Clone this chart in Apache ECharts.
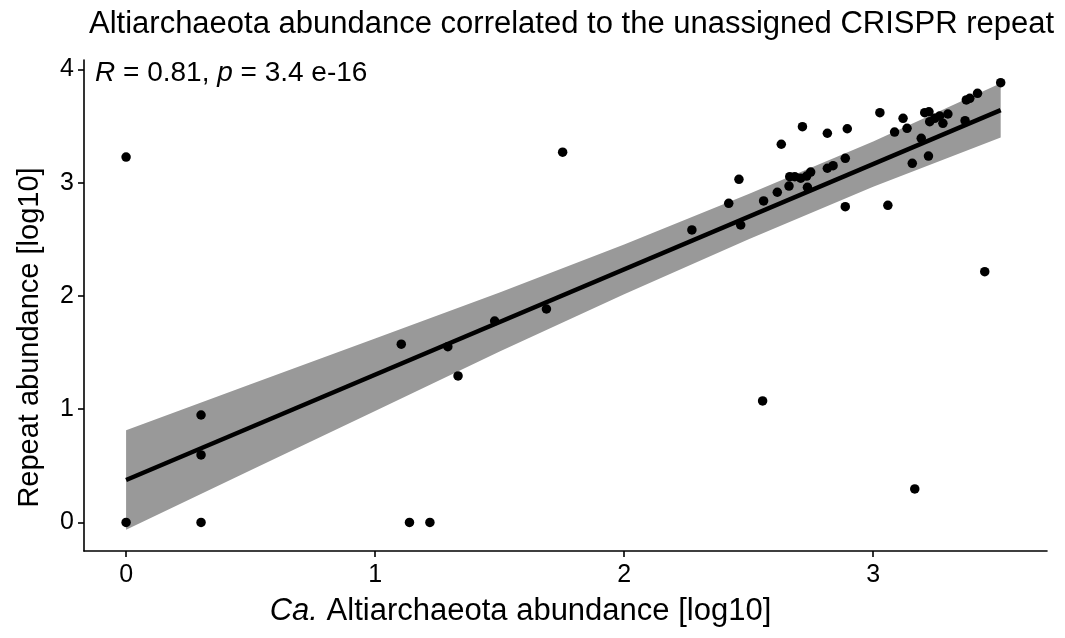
<!DOCTYPE html>
<html><head><meta charset="utf-8">
<script src="https://cdn.jsdelivr.net/npm/echarts@6/dist/echarts.min.js"></script>
<style>html,body{margin:0;padding:0;background:#fff}#c{width:1065px;height:638px}</style>
</head><body><div id="c"></div>
<script>
const titleText = 'Altiarchaeota abundance correlated to the unassigned CRISPR repeat';
const statText = '{i|R} = 0.81, {i|p} = 3.4 e-16';
const xTitle = '{i|Ca.} Altiarchaeota abundance [log10]';
const yTitle = 'Repeat abundance [log10]';

const xAbund = [0, 0, 0.301, 0.301, 0.301, 1.105, 1.138, 1.220, 1.292, 1.333,
  1.480, 1.688, 1.753, 2.272, 2.420, 2.468, 2.461, 2.556, 2.560, 2.615,
  2.631, 2.662, 2.665, 2.685, 2.709, 2.716, 2.733, 2.736, 2.749, 2.816,
  2.816, 2.839, 2.888, 2.888, 2.896, 3.027, 3.059, 3.086, 3.120, 3.136,
  3.157, 3.167, 3.193, 3.207, 3.224, 3.222, 3.227, 3.247, 3.267, 3.280,
  3.300, 3.369, 3.374, 3.388, 3.419, 3.448, 3.512];
const yRepeat = [0, 3.227, 0.949, 0.596, 0, 1.574, 0, 0, 1.552, 1.294,
  1.779, 1.885, 3.270, 2.583, 2.818, 2.627, 3.030, 1.073, 2.839, 2.916,
  3.340, 2.971, 3.054, 3.054, 3.040, 3.495, 3.059, 2.960, 3.094, 3.437,
  3.128, 3.151, 2.789, 3.216, 3.477, 3.619, 2.801, 3.448, 3.569, 3.481,
  3.172, 0.296, 3.392, 3.619, 3.627, 3.236, 3.539, 3.569, 3.589, 3.525,
  3.607, 3.548, 3.731, 3.746, 3.790, 2.215, 3.884];

const fitX = [0, 3.512];
const fitY = [0.375, 3.641];

const bandX = [0, 0.5, 1, 1.5, 2, 2.5, 3, 3.512];
const bandLower = [-0.065, 0.46, 0.985, 1.51, 2.015, 2.50, 2.965, 3.399];
const bandUpper = [0.815, 1.22, 1.625, 2.03, 2.455, 2.90, 3.365, 3.879];

const xTicks = [0, 1, 2, 3];
const yTicks = [0, 1, 2, 3, 4];

const FONT = '"Liberation Sans", Arial, Helvetica, sans-serif';

const chart = echarts.init(document.getElementById('c'), null, {renderer: 'canvas'});
const axisCommon = {
  axisLine: {show: true, onZero: false, lineStyle: {color: '#000', width: 1.6}},
  axisTick: {show: true, length: 6, lineStyle: {color: '#000', width: 1.6}},
  splitLine: {show: false}
};
chart.setOption({
  animation: false,
  backgroundColor: '#fff',
  title: [
    {text: titleText, left: 84, top: 4,
     textStyle: {fontSize: 31, fontWeight: 'normal', color: '#000', fontFamily: FONT}},
    {text: statText, left: 90, top: 54,
     textStyle: {fontSize: 28, fontWeight: 'normal', color: '#000', fontFamily: FONT,
       rich: {i: {fontStyle: 'italic', fontSize: 28, color: '#000', fontFamily: FONT}}}}
  ],
  grid: {left: 84, right: 18, top: 60, bottom: 87, containLabel: false, outerBoundsMode: 'none'},
  xAxis: Object.assign({
    type: 'value', min: -0.169, max: 3.698,
    name: xTitle, nameLocation: 'middle', nameGap: 45,
    nameTextStyle: {fontSize: 31, color: '#000', fontFamily: FONT, padding: [0, 90, 0, 0],
      rich: {i: {fontStyle: 'italic', fontSize: 31, color: '#000', fontFamily: FONT}}},
    axisLabel: {customValues: xTicks, fontSize: 25, color: '#000', fontFamily: FONT, margin: 12}
  }, axisCommon, {axisTick: Object.assign({}, axisCommon.axisTick, {customValues: xTicks})}),
  yAxis: Object.assign({
    type: 'value', min: -0.252, max: 4.084,
    name: yTitle, nameLocation: 'middle', nameGap: 40,
    nameTextStyle: {fontSize: 29, color: '#000', fontFamily: FONT, padding: [0, 64, 0, 0]},
    axisLabel: {customValues: yTicks, fontSize: 25, color: '#000', fontFamily: FONT, margin: 10}
  }, axisCommon, {axisTick: Object.assign({}, axisCommon.axisTick, {customValues: yTicks})}),
  series: [
    {
      type: 'custom', z: 1, silent: true,
      data: bandX.map((x, i) => [x, bandLower[i], bandUpper[i]]),
      encode: {x: 0, y: [1, 2]},
      renderItem: function (params, api) {
        if (params.dataIndex !== 0) return null;
        const pts = [];
        for (let i = 0; i < bandX.length; i++) pts.push(api.coord([bandX[i], bandUpper[i]]));
        for (let i = bandX.length - 1; i >= 0; i--) pts.push(api.coord([bandX[i], bandLower[i]]));
        return {type: 'polygon', shape: {points: pts}, style: {fill: '#999999', stroke: null}};
      }
    },
    {
      type: 'line', z: 2, silent: true, showSymbol: false,
      data: fitX.map((x, i) => [x, fitY[i]]),
      lineStyle: {color: '#000', width: 4.5}
    },
    {
      type: 'scatter', z: 3, symbolSize: 9.5,
      itemStyle: {color: '#000', opacity: 1},
      data: xAbund.map((x, i) => [x, yRepeat[i]])
    }
  ]
});
</script>
</body></html>
